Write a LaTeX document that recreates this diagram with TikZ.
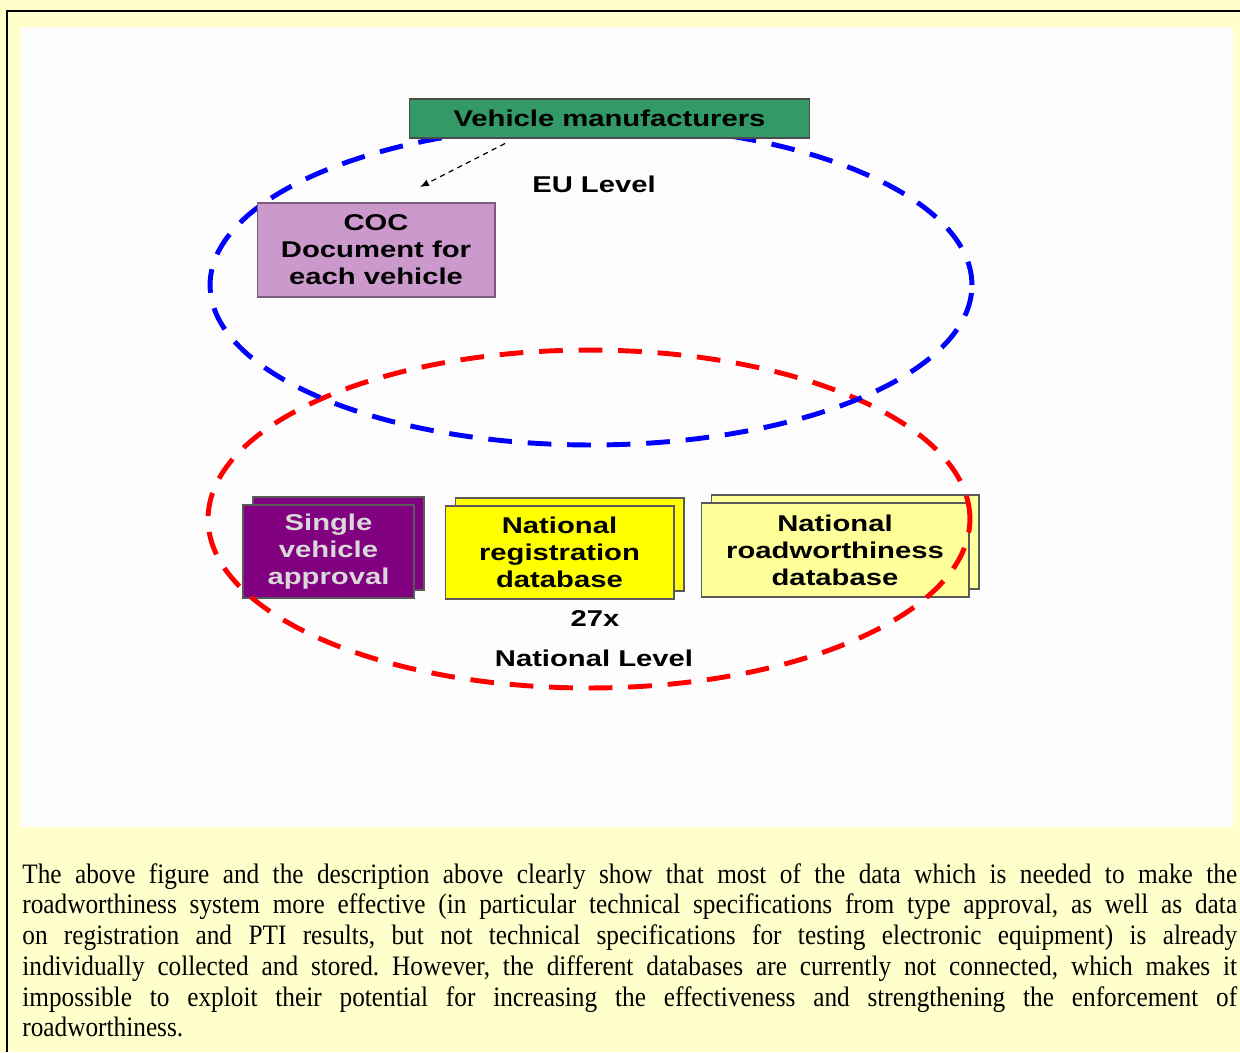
\documentclass[tikz,border=0pt]{standalone}
\usepackage{fontspec}
\usepackage{tikz}
\usetikzlibrary{arrows.meta, shapes.geometric, shadows}
\newfontfamily\diagfont[FakeStretch=1.28]{Liberation Sans}
\newfontfamily\bodyfont[FakeStretch=0.9]{Liberation Serif}
\newcommand{\captionfont}{\bodyfont\fontsize{16}{17.5}\selectfont
  \tolerance=9999\relax\hyphenpenalty=10000\relax\frenchspacing}
\definecolor{pagebg}{HTML}{FFFFCC}
\definecolor{panelbg}{HTML}{FDFDFD}
\definecolor{mfgreen}{HTML}{339966}
\definecolor{cocpink}{HTML}{CC99CC}
\definecolor{svapurple}{HTML}{800080}
\definecolor{regyellow}{HTML}{FFFF00}
\definecolor{rwyellow}{HTML}{FFFF99}
\tikzstyle{levelbox} = [
  rectangle, draw=black!65, line width=0.6pt, align=center, inner sep=0pt,
  font=\diagfont\bfseries\fontsize{13}{15.4}\selectfont
]
\tikzset{stackbox/.style={levelbox, fill=#1,
  copy shadow={fill=#1, draw=black!65, shadow xshift=0.2cm, shadow yshift=0.16cm}}}
\tikzstyle{levelring} = [ellipse, inner sep=0pt, line width=2.8pt, dash pattern=on 13.5pt off 9pt]
\tikzstyle{levellabel} = [font=\diagfont\bfseries\fontsize{13}{15.4}\selectfont]
\tikzstyle{dasharrow} = [-{Latex[length=1.8mm, width=1.4mm]}, line width=0.7pt, dash pattern=on 3pt off 2.5pt]
\tikzstyle{bodytext} = [inner sep=0pt, text width=24.3cm, align=justify, font=\captionfont]

\begin{document}
\begin{tikzpicture}[x=0.02cm, y=-0.02cm]

  \useasboundingbox (0, 0) rectangle (1240, 1052);
  \fill[pagebg] (0, 0) rectangle (1240, 1052);
  \fill[panelbg] (21, 27) rectangle (1233, 827);
  \draw[line width=1.2pt] (7, 1052) -- (7, 11) -- (1240, 11);

  \node[stackbox=svapurple, text=white!85!black, minimum width=3.42cm, minimum height=1.86cm]
    (sva) at (328.5, 551.5) {Single\\vehicle\\approval};
  \node[stackbox=regyellow, minimum width=4.58cm, minimum height=1.86cm]
    (natreg) at (559.5, 552.5) {National\\registration\\database};
  \node[stackbox=rwyellow, minimum width=5.36cm, minimum height=1.88cm]
    (natrw) at (835, 550) {National\\roadworthiness\\database};

  \node[levelring, draw=red, minimum width=15.24cm, minimum height=6.76cm] (natring) at (589, 519) {};
  \node[levelring, draw=blue, minimum width=15.24cm, minimum height=6.4cm] (euring) at (591, 285) {};

  \node[levelbox, fill=cocpink, draw=cocpink!60!black, minimum width=4.76cm, minimum height=1.88cm]
    (coc) at (376, 250) {COC\\Document for\\each vehicle};
  \node[levelbox, fill=mfgreen, draw=black!70, minimum width=8.02cm, minimum height=0.78cm]
    (mfr) at (609.5, 118.5) {Vehicle manufacturers};

  \coordinate (cocin) at (420, 187);
  \draw[dasharrow] ([xshift=-2.09cm, yshift=-0.1cm]mfr.south) -- (cocin);

  \node[levellabel] (eulabel) at (594, 184) {EU Level};
  \node[levellabel] (count) at (595, 619) {27x};
  \node[levellabel] (natlabel) at (594, 658) {National Level};

  \node[bodytext, anchor=base west] (caption) at (22, 883) {The above figure and the description above clearly show that most of the data which is needed to make the\linebreak
    roadworthiness system more effective (in particular technical specifications from type approval, as well as data\linebreak
    on registration and PTI results, but not technical specifications for testing electronic equipment) is already\linebreak
    individually collected and stored. However, the different databases are currently not connected, which makes it\linebreak
    impossible to exploit their potential for increasing the effectiveness and strengthening the enforcement of\linebreak
    roadworthiness.};

\end{tikzpicture}
\end{document}
